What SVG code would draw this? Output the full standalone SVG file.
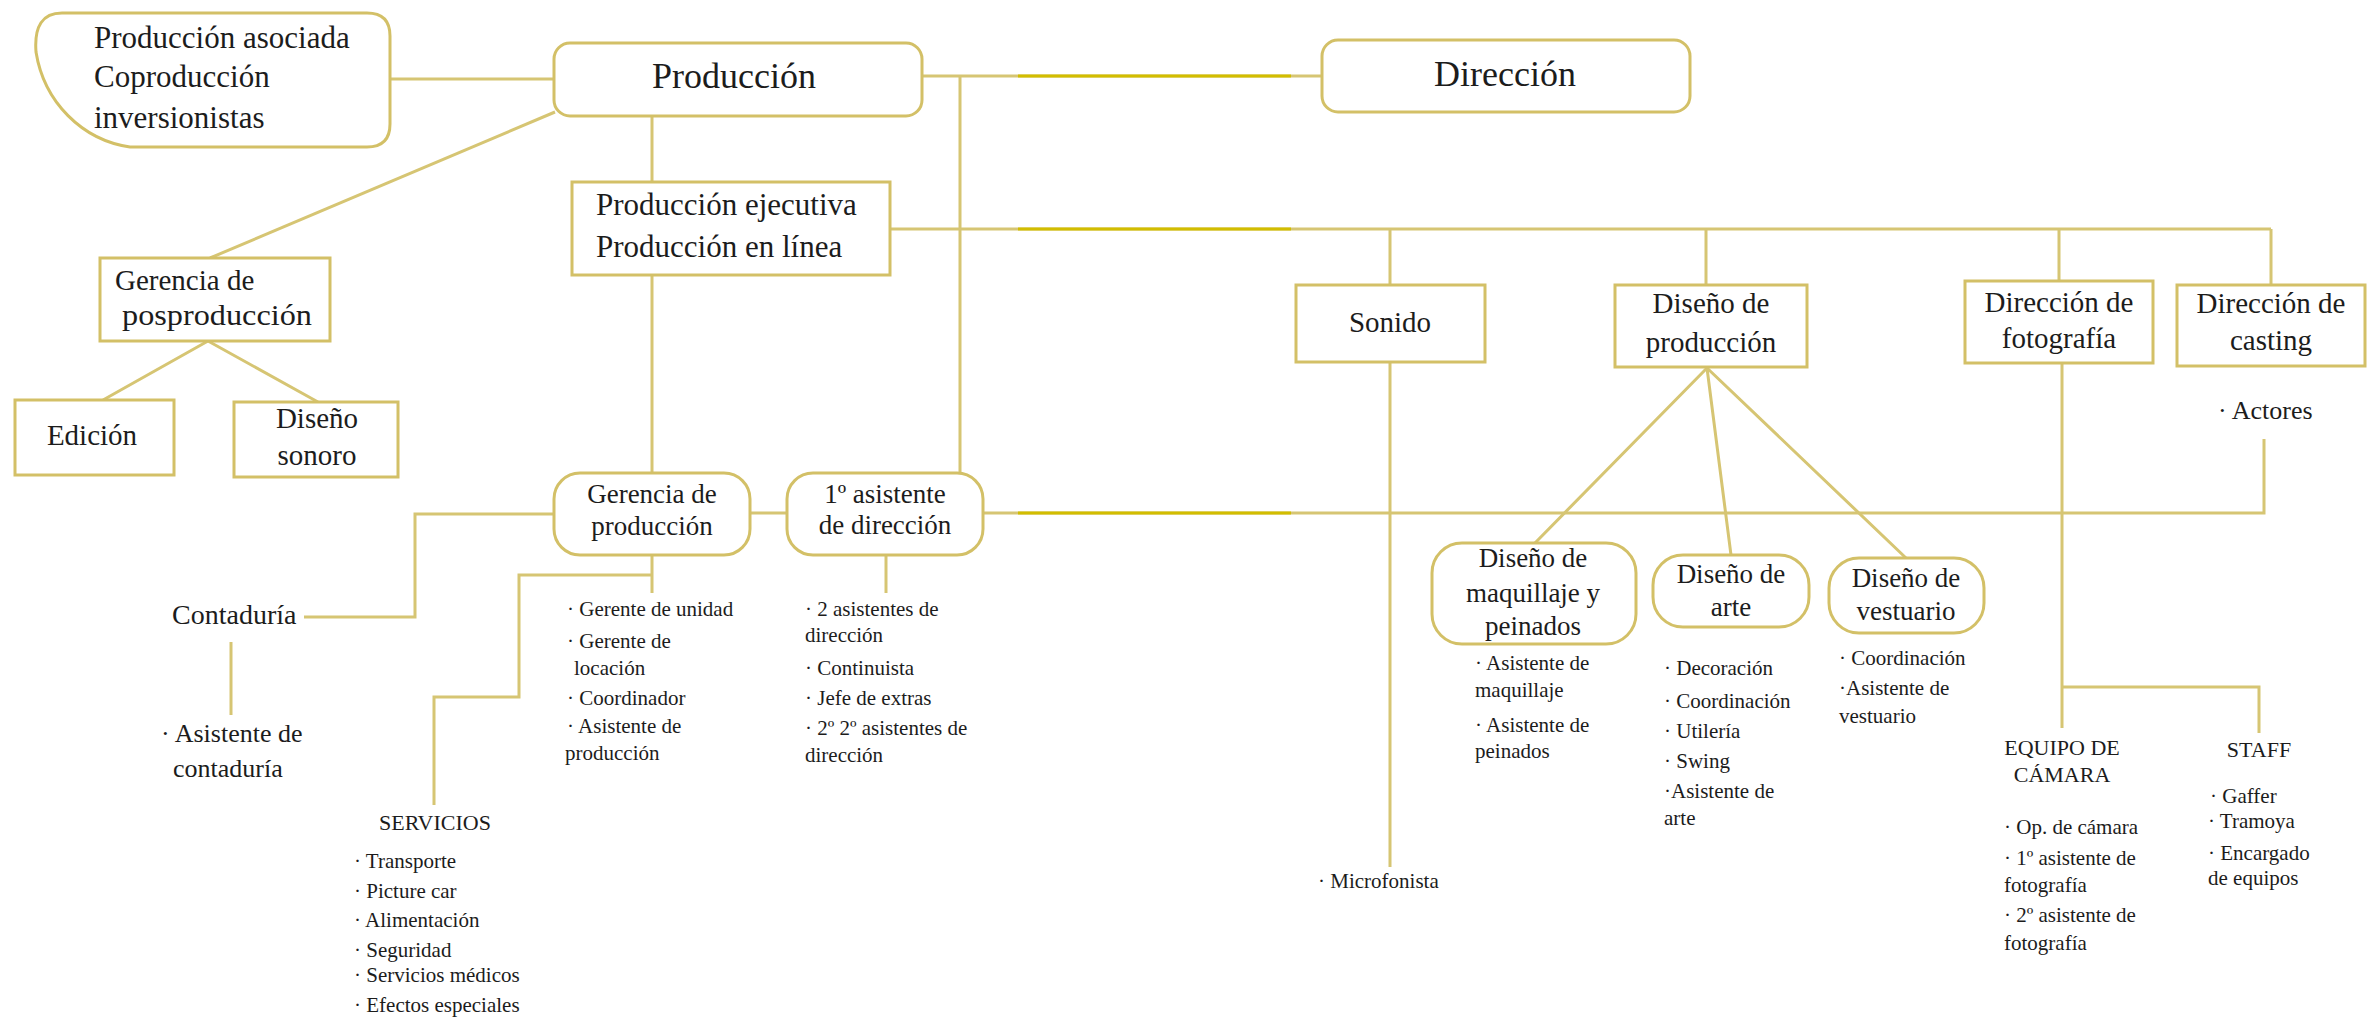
<svg xmlns="http://www.w3.org/2000/svg" width="2378" height="1021" viewBox="0 0 2378 1021">
<style>
text{font-family:"Liberation Serif","Times New Roman",serif;fill:#1c1c1c}
.box{fill:#fff;stroke:#d3c067;stroke-width:3}
.ln{fill:none;stroke:#d6c573;stroke-width:3}
.lb{fill:none;stroke:#d2bd00;stroke-width:3}
.t36{font-size:36px}
.t31{font-size:31px}
.t29{font-size:29px}
.t27{font-size:27px}
.t26{font-size:26px}
.t21{font-size:21px}
.t22{font-size:22px}
.m{text-anchor:middle}
</style>
<rect width="2378" height="1021" fill="#fff"/>
<g id="connectors">
<path class="ln" d="M390,79 H554"/>
<path class="ln" d="M922,76 H1322"/>
<path class="ln" d="M960,76 V473"/>
<path class="ln" d="M652,116 V182"/>
<path class="ln" d="M555,112 L210,258"/>
<path class="ln" d="M208,341 L103,400 M208,341 L318,402"/>
<path class="ln" d="M890,229 H2271"/>
<path class="ln" d="M1390,229 V285 M1706,229 V285 M2059,229 V281 M2271,229 V285"/>
<path class="ln" d="M652,275 V473"/>
<path class="ln" d="M750,513 H787"/>
<path class="ln" d="M554,514 H415 V617 H304"/>
<path class="ln" d="M231,642 V715"/>
<path class="ln" d="M652,555 V593 M652,575 H519 V697 H434 V805"/>
<path class="ln" d="M886,555 V593"/>
<path class="ln" d="M983,513 H2264 V439"/>
<path class="ln" d="M1390,362 V867"/>
<path class="ln" d="M1707,368 L1535,543 M1707,368 L1731,555 M1707,368 L1906,558"/>
<path class="ln" d="M2062,363 V728 M2062,687 H2259 V733"/>
<path class="lb" d="M1018,76 H1291 M1018,229 H1291 M1018,513 H1291"/>
</g>
<g id="n-asociada">
<path class="box" d="M62,13 H367 Q390,13 390,36 V124 Q390,147 367,147 H130 C82,140 44,102 36,52 Q33,13 62,13 Z"/>
<text class="t31" x="94" y="48">Producción asociada</text>
<text class="t31" x="94" y="87">Coproducción</text>
<text class="t31" x="94" y="128">inversionistas</text>
</g>
<g id="n-produccion">
<rect class="box" x="554" y="43" width="368" height="73" rx="16"/>
<text class="t36 m" x="734" y="88">Producción</text>
</g>
<g id="n-direccion">
<rect class="box" x="1322" y="40" width="368" height="72" rx="16"/>
<text class="t36 m" x="1505" y="86">Dirección</text>
</g>
<g id="n-ejecutiva">
<rect class="box" x="572" y="182" width="318" height="93"/>
<text class="t31" x="596" y="215">Producción ejecutiva</text>
<text class="t31" x="596" y="257">Producción en línea</text>
</g>
<g id="n-posproduccion">
<rect class="box" x="100" y="258" width="230" height="83"/>
<text class="t29" x="115" y="290">Gerencia de</text>
<text class="t29" x="122" y="325" textLength="190" lengthAdjust="spacingAndGlyphs">posproducción</text>
</g>
<g id="n-edicion">
<rect class="box" x="15" y="400" width="159" height="75"/>
<text class="t29 m" x="92" y="445">Edición</text>
</g>
<g id="n-disenosonoro">
<rect class="box" x="234" y="402" width="164" height="75"/>
<text class="t29 m" x="317" y="428">Diseño</text>
<text class="t29 m" x="317" y="465">sonoro</text>
</g>
<g id="n-gerenciaprod">
<rect class="box" x="554" y="473" width="196" height="82" rx="26"/>
<text class="t27 m" x="652" y="503">Gerencia de</text>
<text class="t27 m" x="652" y="535">producción</text>
</g>
<g id="n-asistente1">
<rect class="box" x="787" y="473" width="196" height="82" rx="26"/>
<text class="t27 m" x="885" y="503">1º asistente</text>
<text class="t27 m" x="885" y="534">de dirección</text>
</g>
<g id="n-contaduria">
<text style="font-size:28px" x="172" y="624">Contaduría</text>
<text class="t26" x="161" y="742">· Asistente de</text>
<text class="t26" x="173" y="777">contaduría</text>
</g>
<g id="n-servicios">
<text class="t22 m" x="435" y="830">SERVICIOS</text>
<text class="t21" x="354" y="868">· Transporte</text>
<text class="t21" x="354" y="898">· Picture car</text>
<text class="t21" x="354" y="927">· Alimentación</text>
<text class="t21" x="354" y="957">· Seguridad</text>
<text class="t21" x="354" y="982">· Servicios médicos</text>
<text class="t21" x="354" y="1012">· Efectos especiales</text>
</g>
<g id="n-lista-gerencia">
<text class="t21" x="567" y="616">· Gerente de unidad</text>
<text class="t21" x="567" y="648">· Gerente de</text>
<text class="t21" x="574" y="675">locación</text>
<text class="t21" x="567" y="705">· Coordinador</text>
<text class="t21" x="567" y="733">· Asistente de</text>
<text class="t21" x="565" y="760">producción</text>
</g>
<g id="n-lista-asistente">
<text class="t21" x="805" y="616">· 2 asistentes de</text>
<text class="t21" x="805" y="642">dirección</text>
<text class="t21" x="805" y="675">· Continuista</text>
<text class="t21" x="805" y="705">· Jefe de extras</text>
<text class="t21" x="805" y="735">· 2º 2º asistentes de</text>
<text class="t21" x="805" y="762">dirección</text>
</g>
<g id="n-sonido">
<rect class="box" x="1296" y="285" width="189" height="77"/>
<text class="t29 m" x="1390" y="332">Sonido</text>
<text class="t21" x="1318" y="888">· Microfonista</text>
</g>
<g id="n-disenoprod">
<rect class="box" x="1615" y="285" width="192" height="82"/>
<text class="t29 m" x="1711" y="313">Diseño de</text>
<text class="t29 m" x="1711" y="352">producción</text>
</g>
<g id="n-fotografia">
<rect class="box" x="1965" y="281" width="188" height="82"/>
<text class="t29 m" x="2059" y="312">Dirección de</text>
<text class="t29 m" x="2059" y="348">fotografía</text>
</g>
<g id="n-casting">
<rect class="box" x="2177" y="285" width="188" height="81"/>
<text class="t29 m" x="2271" y="313">Dirección de</text>
<text class="t29 m" x="2271" y="350">casting</text>
<text class="t26" x="2218" y="419">· Actores</text>
</g>
<g id="n-maquillaje">
<rect class="box" x="1432" y="543" width="204" height="101" rx="30"/>
<text class="t27 m" x="1533" y="567">Diseño de</text>
<text class="t27 m" x="1533" y="602">maquillaje y</text>
<text class="t27 m" x="1533" y="635">peinados</text>
<text class="t21" x="1475" y="670">· Asistente de</text>
<text class="t21" x="1475" y="697">maquillaje</text>
<text class="t21" x="1475" y="732">· Asistente de</text>
<text class="t21" x="1475" y="758">peinados</text>
</g>
<g id="n-arte">
<rect class="box" x="1653" y="555" width="156" height="72" rx="30"/>
<text class="t27 m" x="1731" y="583">Diseño de</text>
<text class="t27 m" x="1731" y="616">arte</text>
<text class="t21" x="1664" y="675">· Decoración</text>
<text class="t21" x="1664" y="708">· Coordinación</text>
<text class="t21" x="1664" y="738">· Utilería</text>
<text class="t21" x="1664" y="768">· Swing</text>
<text class="t21" x="1664" y="798">·Asistente de</text>
<text class="t21" x="1664" y="825">arte</text>
</g>
<g id="n-vestuario">
<rect class="box" x="1829" y="558" width="155" height="75" rx="30"/>
<text class="t27 m" x="1906" y="587">Diseño de</text>
<text class="t27 m" x="1906" y="620">vestuario</text>
<text class="t21" x="1839" y="665">· Coordinación</text>
<text class="t21" x="1839" y="695">·Asistente de</text>
<text class="t21" x="1839" y="723">vestuario</text>
</g>
<g id="n-equipocamara">
<text class="t22 m" x="2062" y="755">EQUIPO DE</text>
<text class="t22 m" x="2062" y="782">CÁMARA</text>
<text class="t21" x="2004" y="834">· Op. de cámara</text>
<text class="t21" x="2004" y="865">· 1º asistente de</text>
<text class="t21" x="2004" y="892">fotografía</text>
<text class="t21" x="2004" y="922">· 2º asistente de</text>
<text class="t21" x="2004" y="950">fotografía</text>
</g>
<g id="n-staff">
<text class="t22 m" x="2259" y="757">STAFF</text>
<text class="t21" x="2210" y="803">· Gaffer</text>
<text class="t21" x="2208" y="828">· Tramoya</text>
<text class="t21" x="2208" y="860">· Encargado</text>
<text class="t21" x="2208" y="885">de equipos</text>
</g>
</svg>
